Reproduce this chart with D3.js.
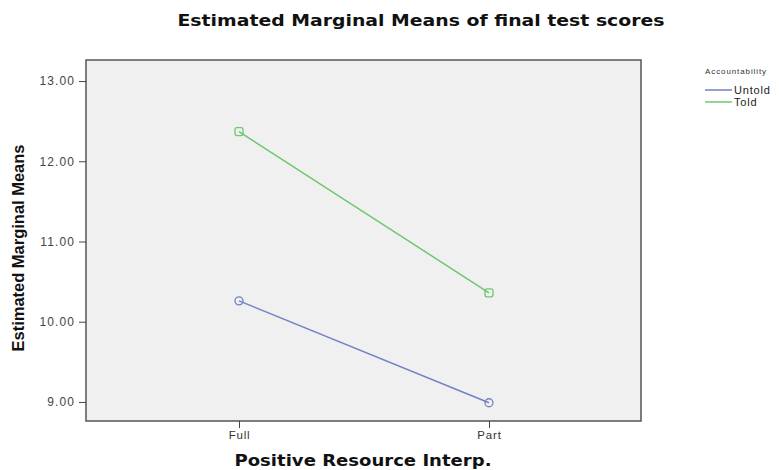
<!DOCTYPE html>
<html><head><meta charset="utf-8">
<script src="https://cdn.jsdelivr.net/npm/d3@7"></script>
<style>body{margin:0;background:#fff;} svg{display:block;}</style>
</head><body>
<svg id="c" width="779" height="470"></svg>
<script>
const categories = ["Full", "Part"];
const seriesNames = ["Untold", "Told"];
const untold = [10.26, 8.99];
const told = [12.37, 10.36];
const yTicks = [9, 10, 11, 12, 13];
const colors = ["#7282c4", "#6cc86c"];

const svg = d3.select("#c");
const L = 86, R = 641, T = 60, B = 421;
const x = d3.scalePoint().domain(categories).range([239, 489]);
const y = d3.scaleLinear().domain([8.7625, 13.2625]).range([B, T]);

svg.append("rect").attr("x", L).attr("y", T).attr("width", R - L).attr("height", B - T)
  .attr("fill", "#f0f0f0").attr("stroke", "#555").attr("stroke-width", 1.5);

const ya = svg.append("g").attr("transform", `translate(${L},0)`)
  .call(d3.axisLeft(y).tickValues(yTicks).tickSize(7).tickPadding(4).tickFormat(d3.format(".2f")));
ya.select(".domain").remove();
ya.selectAll("line").attr("stroke", "#444");
ya.selectAll("text").attr("font-family", "Liberation Sans, Arial, sans-serif").attr("font-size", 12)
  .attr("letter-spacing", 1.1).attr("fill", "#444");

const xa = svg.append("g").attr("transform", `translate(0,${B})`)
  .call(d3.axisBottom(x).tickSize(7).tickPadding(3));
xa.select(".domain").remove();
xa.selectAll("line").attr("stroke", "#444");
xa.selectAll("text").attr("font-family", "Liberation Sans, Arial, sans-serif").attr("font-size", 11.5)
  .attr("letter-spacing", 0.8).attr("fill", "#333");

const data = [untold, told];
data.forEach((vals, i) => {
  const pts = categories.map((c, j) => [x(c), y(vals[j])]);
  svg.append("path").attr("d", d3.line()(pts)).attr("fill", "none")
    .attr("stroke", colors[i]).attr("stroke-width", 1.5);
  pts.forEach(p => {
    if (i === 0) {
      svg.append("circle").attr("cx", p[0]).attr("cy", p[1]).attr("r", 4)
        .attr("fill", "none").attr("stroke", colors[i]).attr("stroke-width", 1.3);
    } else {
      svg.append("rect").attr("x", p[0] - 4).attr("y", p[1] - 4).attr("width", 8).attr("height", 8).attr("rx", 2)
        .attr("fill", "none").attr("stroke", colors[i]).attr("stroke-width", 1.3);
    }
  });
});

// Title
svg.append("text").attr("x", 421).attr("y", 26).attr("text-anchor", "middle")
  .attr("font-family", "DejaVu Sans, Liberation Sans, sans-serif").attr("font-weight", "bold")
  .attr("font-size", 16.5).attr("textLength", 487).attr("lengthAdjust", "spacingAndGlyphs").attr("fill", "#111")
  .text("Estimated Marginal Means of final test scores");

// X axis title
svg.append("text").attr("x", 363).attr("y", 466).attr("text-anchor", "middle")
  .attr("font-family", "DejaVu Sans, Liberation Sans, sans-serif").attr("font-weight", "bold")
  .attr("font-size", 15.5).attr("textLength", 257).attr("lengthAdjust", "spacingAndGlyphs").attr("fill", "#111")
  .text("Positive Resource Interp.");

// Y axis title
svg.append("text").attr("transform", "translate(24,248) rotate(-90)").attr("text-anchor", "middle")
  .attr("font-family", "Liberation Sans Narrow, Liberation Sans, Arial, sans-serif").attr("font-weight", "bold")
  .attr("font-size", 16).attr("textLength", 207).attr("lengthAdjust", "spacingAndGlyphs").attr("fill", "#111")
  .text("Estimated Marginal Means");

// Legend
svg.append("text").attr("x", 705).attr("y", 74).attr("font-family", "Liberation Sans, Arial, sans-serif")
  .attr("font-size", 8).attr("letter-spacing", 0.9).attr("fill", "#333").text("Accountability");
seriesNames.forEach((n, i) => {
  const ly = 90 + i * 12;
  svg.append("line").attr("x1", 705).attr("x2", 732).attr("y1", ly).attr("y2", ly)
    .attr("stroke", colors[i]).attr("stroke-width", 1.5);
  svg.append("text").attr("x", 734).attr("y", ly + 4).attr("font-family", "Liberation Sans, Arial, sans-serif")
    .attr("font-size", 11).attr("letter-spacing", 0.8).attr("fill", "#222").text(n);
});
</script>
</body></html>
